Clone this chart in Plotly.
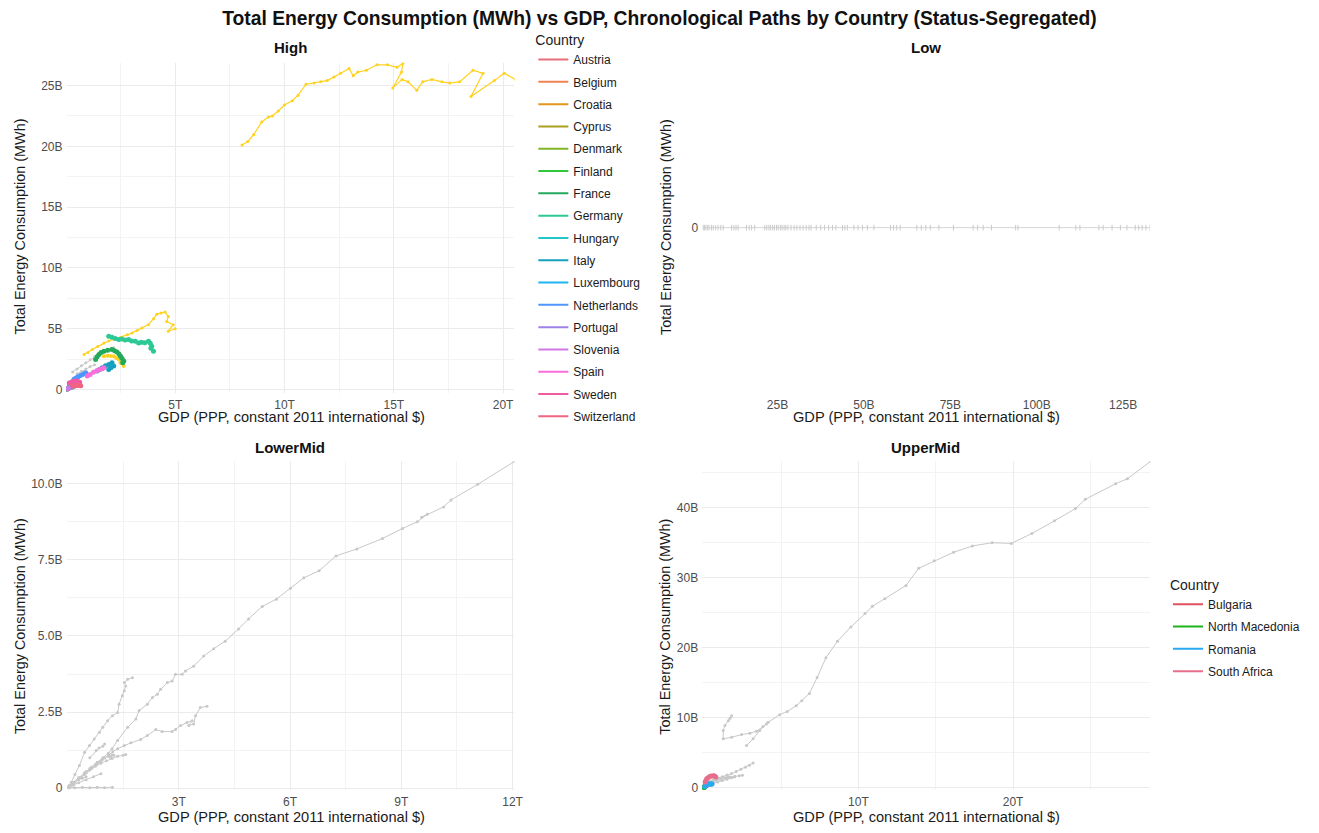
import plotly.graph_objects as go

# ---------------- data (GDP in trillions $, energy in billions MWh) ----------------
T = 1e12
B = 1e9

# High-income panel: highlighted country paths
high_countries = ["Austria", "Belgium", "Croatia", "Cyprus", "Denmark", "Finland", "France",
                  "Germany", "Hungary", "Italy", "Luxembourg", "Netherlands", "Portugal",
                  "Slovenia", "Spain", "Sweden", "Switzerland"]
high_colors = ["#E66E78", "#EE8250", "#E3961E", "#AAA01E", "#82B428", "#2EC83A", "#22A95C",
               "#2CC896", "#1EC8C8", "#14A0BE", "#1EB4F0", "#5096FF", "#A082E6", "#D278E6",
               "#FA6EDC", "#F05AA0", "#F06482"]

austria = [(0.30, 0.38), (0.33, 0.40), (0.36, 0.42), (0.38, 0.43), (0.40, 0.42), (0.42, 0.41)]
belgium = [(0.35, 0.60), (0.38, 0.64), (0.41, 0.66), (0.44, 0.65), (0.47, 0.63)]
croatia = [(0.07, 0.10), (0.08, 0.11), (0.09, 0.11), (0.10, 0.10)]
cyprus = [(0.02, 0.03), (0.025, 0.035), (0.03, 0.035)]
denmark = [(0.20, 0.22), (0.23, 0.23), (0.26, 0.22), (0.28, 0.20)]
finland = [(0.17, 0.30), (0.19, 0.34), (0.21, 0.37), (0.23, 0.36), (0.24, 0.35)]
france = [(1.35, 2.48), (1.42, 2.70), (1.50, 2.88), (1.60, 3.05), (1.73, 3.16), (1.90, 3.24),
          (2.10, 3.29), (2.22, 3.20), (2.33, 3.08), (2.42, 2.92), (2.49, 2.75), (2.56, 2.56),
          (2.64, 2.34), (2.59, 2.20)]
germany = [(1.95, 4.38), (2.10, 4.30), (2.25, 4.20), (2.41, 4.11), (2.55, 4.15), (2.70, 4.08),
           (2.86, 4.11), (3.00, 4.00), (3.17, 3.98), (3.32, 3.84), (3.45, 3.90), (3.60, 3.85),
           (3.77, 3.98), (3.85, 3.80), (3.92, 3.57), (3.88, 3.40), (4.00, 3.16)]
hungary = [(0.15, 0.28), (0.17, 0.30), (0.19, 0.29), (0.21, 0.30)]
italy = [(1.42, 1.53), (1.52, 1.65), (1.65, 1.80), (1.80, 1.95), (1.95, 2.07), (2.10, 2.20),
         (2.18, 1.93), (2.05, 1.80), (1.95, 1.66)]
luxembourg = [(0.03, 0.05), (0.05, 0.06), (0.06, 0.06)]
netherlands = [(0.36, 0.84), (0.45, 0.95), (0.55, 1.05), (0.65, 1.15), (0.75, 1.25),
               (0.85, 1.32), (0.90, 1.39)]
portugal = [(0.06, 0.05), (0.12, 0.12), (0.20, 0.18), (0.28, 0.24), (0.33, 0.26), (0.36, 0.28)]
slovenia = [(0.04, 0.07), (0.05, 0.08), (0.06, 0.08)]
spain = [(0.97, 1.12), (1.10, 1.25), (1.25, 1.42), (1.40, 1.55), (1.55, 1.68), (1.73, 1.80),
         (1.65, 1.72)]
sweden = [(0.14, 0.55), (0.25, 0.62), (0.35, 0.68), (0.45, 0.70), (0.55, 0.66), (0.62, 0.60)]
switzerland = [(0.30, 0.30), (0.40, 0.32), (0.50, 0.34), (0.60, 0.33), (0.67, 0.31)]

high_paths = [austria, belgium, croatia, cyprus, denmark, finland, france, germany, hungary,
              italy, luxembourg, netherlands, portugal, slovenia, spain, sweden, switzerland]

# High-income panel: gold-marked paths
gold_large = [(8.05, 20.1), (8.32, 20.4), (8.59, 20.97), (8.95, 22.0), (9.26, 22.4),
              (9.44, 22.5), (9.71, 22.9), (9.99, 23.4), (10.35, 23.75), (10.62, 24.2),
              (10.98, 25.1), (11.35, 25.2), (11.65, 25.3), (11.95, 25.4), (12.26, 25.7),
              (12.56, 26.0), (12.95, 26.4), (13.14, 25.8), (13.35, 26.1), (13.74, 26.25),
              (14.23, 26.7), (14.71, 26.7), (15.14, 26.5), (15.41, 26.8), (15.35, 26.1),
              (14.95, 24.8), (15.38, 25.5), (15.65, 25.3), (16.05, 24.6), (16.32, 25.3),
              (16.74, 25.5), (17.20, 25.3), (17.56, 25.2), (18.01, 25.3), (18.62, 26.25),
              (19.08, 26.0), (18.53, 24.1), (19.60, 25.4), (20.05, 26.0), (20.56, 25.5)]
gold_mid = [(0.82, 2.88), (1.00, 3.05), (1.20, 3.30), (1.45, 3.55), (1.73, 3.84), (1.95, 4.00),
            (2.20, 4.15), (2.50, 4.30), (2.80, 4.50), (3.02, 4.66), (3.25, 4.85), (3.47, 5.07),
            (3.77, 5.34), (4.00, 5.83), (4.15, 6.20), (4.35, 6.30), (4.53, 6.37), (4.68, 6.00),
            (4.60, 5.60), (4.90, 5.34), (4.68, 4.80), (4.99, 5.00)]
gold_small = [(1.73, 2.75), (1.90, 2.78), (2.05, 2.76), (2.18, 2.75), (2.30, 2.60),
              (2.41, 2.48), (2.49, 2.20), (2.64, 1.93)]

high_grey_a = [(0.30, 1.45), (0.50, 1.70), (0.70, 1.95), (0.90, 2.20), (1.10, 2.45),
               (1.30, 2.70), (1.50, 2.90), (1.70, 3.10), (1.90, 3.25), (2.05, 3.38), (2.18, 3.43)]
high_grey_b = [(0.50, 1.30), (0.70, 1.50), (0.90, 1.70), (1.10, 1.90), (1.30, 2.05)]

# Low-income panel: energy recorded as zero across the GDP range (billions $)
low_gdp = [3.5, 3.9, 4.3, 4.8, 5.2, 5.9, 6.4, 7.1, 7.8, 8.6, 9.3, 11.7, 12.4, 13.0, 13.6,
           16.0, 16.8, 17.5, 18.4, 21.3, 21.9, 22.5, 23.0, 23.6, 24.1, 24.7, 25.2, 25.8, 26.3,
           26.9, 27.4, 28.0, 28.9, 29.8, 30.6, 31.5, 32.4, 33.3, 34.1, 34.7, 36.2, 37.5, 38.6,
           39.8, 40.9, 41.9, 43.8, 44.5, 45.2, 47.1, 48.3, 49.6, 51.0, 52.9, 57.7, 58.6, 59.5,
           60.5, 65.3, 66.6, 67.9, 69.2, 71.7, 75.9, 81.6, 82.9, 84.5, 86.9, 93.9, 94.6, 106.5,
           111.3, 112.5, 118.0, 119.2, 121.8, 124.2, 126.1, 128.5, 129.5, 130.5, 131.6, 132.8]
low_energy = [0.0] * len(low_gdp)

# Lower-middle panel: grey paths
lm_large = [(0.50, 0.55), (0.65, 0.70), (0.80, 0.85), (0.95, 1.00), (1.10, 1.15), (1.20, 1.30),
            (1.35, 1.57), (1.62, 2.00), (1.84, 2.27), (1.93, 2.55), (2.15, 2.76), (2.29, 2.98),
            (2.42, 3.09), (2.51, 3.25), (2.69, 3.47), (2.82, 3.52), (2.91, 3.74), (3.09, 3.74),
            (3.18, 3.85), (3.40, 4.01), (3.67, 4.34), (3.94, 4.58), (4.25, 4.83), (4.61, 5.23),
            (4.88, 5.56), (5.25, 5.97), (5.63, 6.21), (6.01, 6.57), (6.37, 6.91), (6.78, 7.14),
            (7.24, 7.63), (7.80, 7.86), (8.49, 8.20), (9.03, 8.53), (9.43, 8.75), (9.70, 9.00),
            (9.55, 8.90), (10.14, 9.24), (10.34, 9.47), (11.06, 9.98), (12.06, 10.74)]
lm_mid = [(0.35, 0.35), (0.50, 0.50), (0.65, 0.65), (0.80, 0.80), (0.95, 0.95), (1.10, 1.10),
          (1.22, 1.20), (1.35, 1.30), (1.53, 1.40), (1.71, 1.49), (1.97, 1.60), (2.15, 1.73),
          (2.38, 1.93), (2.55, 1.86), (2.82, 1.86), (2.91, 1.93), (3.05, 2.06), (3.22, 2.16),
          (3.36, 2.22), (3.27, 2.06), (3.40, 2.11), (3.45, 2.38), (3.58, 2.65), (3.76, 2.69)]
lm_steep = [(0.10, 0.20), (0.20, 0.45), (0.32, 0.75), (0.46, 1.18), (0.59, 1.40), (0.72, 1.62),
            (0.86, 1.84), (0.95, 2.00), (1.08, 2.22), (1.21, 2.38), (1.35, 2.49), (1.39, 2.76),
            (1.48, 3.04), (1.53, 3.20), (1.57, 3.36), (1.53, 3.47), (1.62, 3.58), (1.75, 3.63)]
lm_a = [(0.05, 0.05), (0.15, 0.15), (0.30, 0.30), (0.45, 0.45), (0.60, 0.60), (0.75, 0.72),
        (0.90, 0.82), (1.05, 0.90), (1.20, 0.98), (1.35, 1.05), (1.50, 1.08), (1.57, 1.11)]
lm_b = [(0.05, 0.10), (0.15, 0.20), (0.30, 0.35), (0.45, 0.50), (0.60, 0.65), (0.75, 0.78),
        (0.90, 0.90), (1.00, 1.00), (1.10, 1.05), (1.20, 1.10), (1.15, 1.02), (1.25, 1.08)]
lm_zero = [(0.03, 0.02), (0.20, 0.02), (0.40, 0.03), (0.60, 0.02), (0.80, 0.03), (1.00, 0.02),
           (1.21, 0.03)]
lm_c = [(0.60, 1.00), (0.77, 1.24), (0.85, 1.32), (0.95, 1.38), (1.00, 1.45)]
lm_d = [(0.02, 0.05), (0.10, 0.12), (0.20, 0.20), (0.30, 0.28), (0.40, 0.33), (0.50, 0.38)]
lm_e = [(0.05, 0.02), (0.15, 0.10), (0.30, 0.18), (0.50, 0.28), (0.70, 0.38), (0.90, 0.48)]

# Upper-middle panel
um_countries = ["Bulgaria", "North Macedonia", "Romania", "South Africa"]
um_colors = ["#E0505F", "#1EB41E", "#28AAF0", "#E66E8C"]
bulgaria = [(0.08, 0.30), (0.10, 0.28), (0.12, 0.25), (0.14, 0.24), (0.16, 0.25)]
north_macedonia = [(0.02, 0.03), (0.025, 0.035), (0.03, 0.04), (0.035, 0.04)]
romania = [(0.05, 0.10), (0.10, 0.25), (0.20, 0.45), (0.28, 0.55), (0.35, 0.50), (0.40, 0.48),
           (0.45, 0.50), (0.50, 0.52), (0.54, 0.50)]
south_africa = [(0.09, 0.80), (0.15, 1.05), (0.20, 1.28), (0.30, 1.45), (0.41, 1.60),
                (0.50, 1.66), (0.62, 1.70), (0.70, 1.64), (0.78, 1.50)]
um_paths = [bulgaria, north_macedonia, romania, south_africa]

um_large = [(2.77, 6.00), (3.19, 6.96), (3.62, 8.14), (4.16, 9.32), (4.91, 10.41), (5.40, 10.88),
            (5.98, 11.69), (6.34, 12.40), (6.83, 13.44), (7.33, 15.71), (7.90, 18.55),
            (8.65, 20.92), (9.51, 22.95), (10.43, 24.86), (10.90, 25.90), (11.71, 26.99),
            (13.08, 28.88), (13.90, 31.34), (14.90, 32.39), (16.15, 33.61), (17.37, 34.52),
            (18.65, 34.99), (19.89, 34.89), (21.22, 36.31), (22.68, 38.11), (24.03, 39.86),
            (24.67, 41.19), (26.63, 43.41), (27.39, 44.12), (28.88, 46.59)]
um_hook = [(1.80, 10.27), (1.70, 9.90), (1.59, 9.56), (1.37, 8.85), (1.26, 8.14), (1.26, 6.96),
           (1.80, 7.19), (2.45, 7.57), (2.98, 7.76), (3.41, 8.04), (3.83, 8.71), (4.05, 9.09)]
um_a = [(0.60, 1.10), (0.90, 1.30), (1.20, 1.55), (1.50, 1.80), (1.80, 2.00), (2.10, 2.30),
        (2.40, 2.60), (2.70, 2.90), (2.95, 3.20), (3.19, 3.50)]
um_b = [(0.50, 0.80), (0.80, 1.00), (1.10, 1.20), (1.40, 1.35), (1.70, 1.50), (2.00, 1.60),
        (2.30, 1.70), (2.50, 1.75)]
um_c = [(0.30, 0.40), (0.60, 0.60), (0.90, 0.80), (1.20, 1.00), (1.50, 1.20), (1.80, 1.40),
        (2.00, 1.50)]
um_d = [(0.40, 0.90), (0.70, 1.10), (1.00, 1.30), (1.30, 1.45), (1.60, 1.55)]

# Tick positions / labels
high_xticks, high_xlabels = [5, 10, 15, 20], ["5T", "10T", "15T", "20T"]
high_yticks, high_ylabels = [0, 5, 10, 15, 20, 25], ["0", "5B", "10B", "15B", "20B", "25B"]
low_xticks, low_xlabels = [25, 50, 75, 100, 125], ["25B", "50B", "75B", "100B", "125B"]
lm_xticks, lm_xlabels = [3, 6, 9, 12], ["3T", "6T", "9T", "12T"]
lm_yticks, lm_ylabels = [0, 2.5, 5, 7.5, 10], ["0", "2.5B", "5.0B", "7.5B", "10.0B"]
um_xticks, um_xlabels = [10, 20], ["10T", "20T"]
um_yticks, um_ylabels = [0, 10, 20, 30, 40], ["0", "10B", "20B", "30B", "40B"]

# ---------------- figure ----------------
W, H = 1319, 833
GREY = "#C8C8C8"
GOLD = "#FFD21F"
FONT = "Liberation Sans, Arial, sans-serif"

fig = go.Figure()


def add_path(path, color, ax, width=1.0, msize=3, opacity=1.0):
    xs = [p[0] * T for p in path]
    ys = [p[1] * B for p in path]
    fig.add_trace(go.Scatter(
        x=xs, y=ys, mode="lines+markers", xaxis="x" + ax, yaxis="y" + ax,
        line=dict(color=color, width=width), marker=dict(color=color, size=msize),
        opacity=opacity, showlegend=False, hoverinfo="skip"))


# High panel
for p in [high_grey_a, high_grey_b]:
    add_path(p, GREY, "")
add_path(gold_large, GOLD, "", width=1.2, msize=3)
add_path(gold_mid, GOLD, "", width=1.2, msize=3)
add_path(gold_small, GOLD, "", width=1.5, msize=4)
for path, col in zip(high_paths, high_colors):
    add_path(path, col, "", width=2, msize=5)

# Low panel
fig.add_trace(go.Scatter(
    x=[g * B for g in low_gdp], y=low_energy, mode="lines+markers", xaxis="x2", yaxis="y2",
    line=dict(color="#D6D6D6", width=1),
    marker=dict(symbol="line-ns", size=4, line=dict(color="#CACACA", width=1)),
    showlegend=False, hoverinfo="skip"))

# Lower-middle panel
for p in [lm_large, lm_mid, lm_steep, lm_a, lm_b, lm_zero, lm_c, lm_d, lm_e]:
    add_path(p, GREY, "3")

# Upper-middle panel
for p in [um_large, um_hook, um_a, um_b, um_c, um_d]:
    add_path(p, GREY, "4")
for path, col in zip(um_paths, um_colors):
    add_path(path, col, "4", width=2, msize=5)

# Legend entries (line swatches)
for name, col in zip(high_countries, high_colors):
    fig.add_trace(go.Scatter(x=[None], y=[None], mode="lines", name=name, legend="legend",
                             legendgroup=name, line=dict(color=col, width=2)))
for name, col in zip(um_countries, um_colors):
    fig.add_trace(go.Scatter(x=[None], y=[None], mode="lines", name=name, legend="legend2",
                             legendgroup=name, line=dict(color=col, width=2),
                             xaxis="x4", yaxis="y4"))


def px_x(v):
    return v / W


def px_y(v):
    return 1 - v / H


GRID = "#EBEBEB"
MINOR = "#F3F3F3"
TICKFONT = dict(family=FONT, size=12, color="#4D4D4D")


def axis(dom, rng, ticks, labels, anchor, minor_vals=None, scale=1.0, grid=True):
    d = dict(domain=dom, range=[r * scale for r in rng], tickvals=[t * scale for t in ticks],
             ticktext=labels, anchor=anchor, showgrid=grid, gridcolor=GRID, gridwidth=1,
             zeroline=False, showline=False, ticks="", tickfont=TICKFONT, ticklabelstandoff=3)
    if minor_vals is not None and grid:
        d["minor"] = dict(tickvals=[m * scale for m in minor_vals], showgrid=True,
                          gridcolor=MINOR, gridwidth=1)
    return d


left = [px_x(67), px_x(518)]
right = [px_x(707), px_x(1158)]
top = [px_y(395), px_y(63)]
bottom = [px_y(795), px_y(464)]

fig.update_layout(
    width=W, height=H, margin=dict(l=0, r=0, t=0, b=0),
    paper_bgcolor="white", plot_bgcolor="white",
    font=dict(family=FONT, color="#1A1A1A"),
    title=dict(text="<b>Total Energy Consumption (MWh) vs GDP, Chronological Paths by Country (Status-Segregated)</b>",
               x=0.5, xanchor="center", y=px_y(18), yanchor="middle",
               font=dict(family=FONT, size=19.3, color="#111111")),
    xaxis=axis(left, [0.02, 20.52], high_xticks, high_xlabels, "y",
               [2.5, 7.5, 12.5, 17.5], T),
    yaxis=axis(top, [-0.25, 26.88], high_yticks, high_ylabels, "x",
               [2.5, 7.5, 12.5, 17.5, 22.5], B),
    xaxis2=axis(right, [3.2, 132.8], low_xticks, low_xlabels, "y2", None, B, grid=False),
    yaxis2=axis(top, [-1, 1], [0], ["0"], "x2", None, 1.0, grid=False),
    xaxis3=axis(left, [-0.027, 12.05], lm_xticks, lm_xlabels, "y3",
                [1.5, 4.5, 7.5, 10.5], T),
    yaxis3=axis(bottom, [-0.065, 10.74], lm_yticks, lm_ylabels, "x3",
                [1.25, 3.75, 6.25, 8.75], B),
    xaxis4=axis(right, [-0.1, 28.86], um_xticks, um_xlabels, "y4",
                [5, 15, 25], T),
    yaxis4=axis(bottom, [-0.38, 46.63], um_yticks, um_ylabels, "x4",
                [5, 15, 25, 35, 45], B),
    legend=dict(title=dict(text="Country", font=dict(size=14, color="#1A1A1A")),
                x=px_x(537), y=px_y(27), xanchor="left", yanchor="top",
                font=dict(family=FONT, size=12, color="#1A1A1A"),
                tracegroupgap=3.3, bgcolor="rgba(0,0,0,0)"),
    legend2=dict(title=dict(text="Country", font=dict(size=14, color="#1A1A1A")),
                 x=px_x(1176), y=px_y(575), xanchor="left", yanchor="top",
                 font=dict(family=FONT, size=12, color="#1A1A1A"),
                 tracegroupgap=3.3, bgcolor="rgba(0,0,0,0)"),
)

# Panel titles and axis titles
panel_titles = ["High", "Low", "LowerMid", "UpperMid"]
panel_centers = [(292, 48), (932, 48), (292, 450), (932, 450)]
annotations = []
for txt, (cx, cy) in zip(panel_titles, panel_centers):
    annotations.append(dict(text="<b>" + txt + "</b>", x=px_x(cx), y=px_y(cy), xref="paper",
                            yref="paper", showarrow=False, xanchor="center", yanchor="middle",
                            font=dict(family=FONT, size=15, color="#111111")))

x_title = "GDP (PPP, constant 2011 international $)"
y_title = "Total Energy Consumption (MWh)"
for cx, cy in [(293, 420), (933, 420), (293, 822), (933, 822)]:
    annotations.append(dict(text=x_title, x=px_x(cx), y=px_y(cy), xref="paper", yref="paper",
                            showarrow=False, xanchor="center", yanchor="middle",
                            font=dict(family=FONT, size=14.6, color="#1A1A1A")))
for cx, cy in [(20, 228), (670, 228), (20, 630), (670, 630)]:
    annotations.append(dict(text=y_title, x=px_x(cx), y=px_y(cy), xref="paper", yref="paper",
                            showarrow=False, xanchor="center", yanchor="middle", textangle=-90,
                            font=dict(family=FONT, size=14.4, color="#1A1A1A")))
fig.update_layout(annotations=annotations)

fig.write_html("out.html")
